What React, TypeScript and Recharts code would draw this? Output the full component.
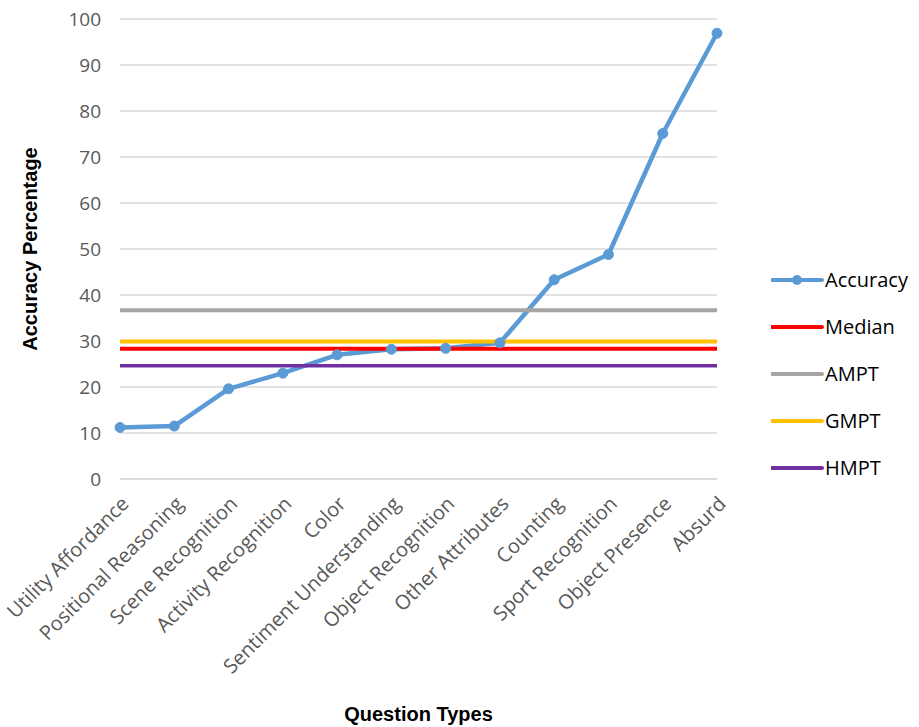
import React from 'react'
import { LineChart, Line, XAxis, YAxis, CartesianGrid, Legend } from 'recharts'

const CATEGORIES = [
  'Utility Affordance',
  'Positional Reasoning',
  'Scene Recognition',
  'Activity Recognition',
  'Color',
  'Sentiment Understanding',
  'Object Recognition',
  'Other Attributes',
  'Counting',
  'Sport Recognition',
  'Object Presence',
  'Absurd',
]

const ACCURACY = [11.2, 11.5, 19.6, 23.0, 27.0, 28.2, 28.4, 29.6, 43.3, 48.8, 75.1, 96.9]

// summary levels, drawn as flat series across every category
const MEDIAN = 28.3
const AMPT = 36.7
const GMPT = 29.9
const HMPT = 24.6

const Y_TICKS = [0, 10, 20, 30, 40, 50, 60, 70, 80, 90, 100]

const SERIES = [
  { key: 'Accuracy', color: '#5b9bd5', width: 4.5 },
  { key: 'Median', color: '#ff0000', width: 4 },
  { key: 'AMPT', color: '#a5a5a5', width: 4 },
  { key: 'GMPT', color: '#ffc000', width: 4 },
  { key: 'HMPT', color: '#7030a0', width: 3.5 },
]

const data = CATEGORIES.map((category, i) => ({
  category,
  Accuracy: ACCURACY[i],
  Median: MEDIAN,
  AMPT: AMPT,
  GMPT: GMPT,
  HMPT: HMPT,
}))

const FONT = '"Open Sans", sans-serif'

// legend rows follow the series order, not the alphabetical default
function LegendList() {
  return (
    <div style={{ display: 'flex', flexDirection: 'column', fontFamily: FONT }}>
      {SERIES.map((s) => (
        <div key={s.key} style={{ display: 'flex', alignItems: 'center', height: 47 }}>
          <svg width={54} height={20} style={{ display: 'block' }}>
            <line x1={1} y1={10} x2={51} y2={10} stroke={s.color} strokeWidth={4} strokeLinecap="round" />
            {s.key === 'Accuracy' && <circle cx={26} cy={10} r={5} fill={s.color} />}
          </svg>
          <span style={{ fontSize: 20, color: '#000', lineHeight: '20px' }}>{s.key}</span>
        </div>
      ))}
    </div>
  )
}

export default function App() {
  return (
    <div style={{ position: 'absolute', left: 0, top: 0, background: '#fff' }}>
      <LineChart
        width={919}
        height={727}
        data={data}
        margin={{ top: 19, right: 202, left: 0, bottom: 0 }}
        style={{ fontFamily: FONT }}
      >
        <CartesianGrid vertical={false} stroke="#d9d9d9" strokeWidth={1.3} />
        <XAxis
          dataKey="category"
          interval={0}
          height={248}
          tickSize={0}
          tickMargin={16}
          tickLine={false}
          axisLine={{ stroke: '#d9d9d9', strokeWidth: 1.3 }}
          tick={{ fill: '#595959', fontSize: 20, angle: -45, textAnchor: 'end' }}
          label={{
            value: 'Question Types',
            position: 'insideBottom',
            offset: 6,
            style: { fontFamily: '"Liberation Sans", sans-serif', fontWeight: 700, fontSize: 20, fill: '#000' },
          }}
        />
        <YAxis
          width={120}
          domain={[0, 100]}
          ticks={Y_TICKS}
          interval={0}
          tickSize={0}
          tickMargin={19}
          tickLine={false}
          axisLine={false}
          tick={{ fill: '#595959', fontSize: 19 }}
          label={{
            value: 'Accuracy Percentage',
            angle: -90,
            position: 'insideLeft',
            offset: 30,
            style: {
              textAnchor: 'middle',
              fontFamily: '"Liberation Sans", sans-serif',
              fontWeight: 700,
              fontSize: 20,
              fill: '#000',
            },
          }}
        />
        <Legend
          layout="horizontal"
          verticalAlign="middle"
          width={150}
          wrapperStyle={{ left: 771, top: 256 }}
          content={() => <LegendList />}
        />
        {SERIES.map((s) => (
          <Line
            key={s.key}
            dataKey={s.key}
            stroke={s.color}
            strokeWidth={s.width}
            strokeLinejoin="round"
            dot={s.key === 'Accuracy' ? { r: 5, fill: s.color, stroke: s.color, strokeWidth: 1 } : false}
            activeDot={false}
            isAnimationActive={false}
          />
        ))}
      </LineChart>
    </div>
  )
}
